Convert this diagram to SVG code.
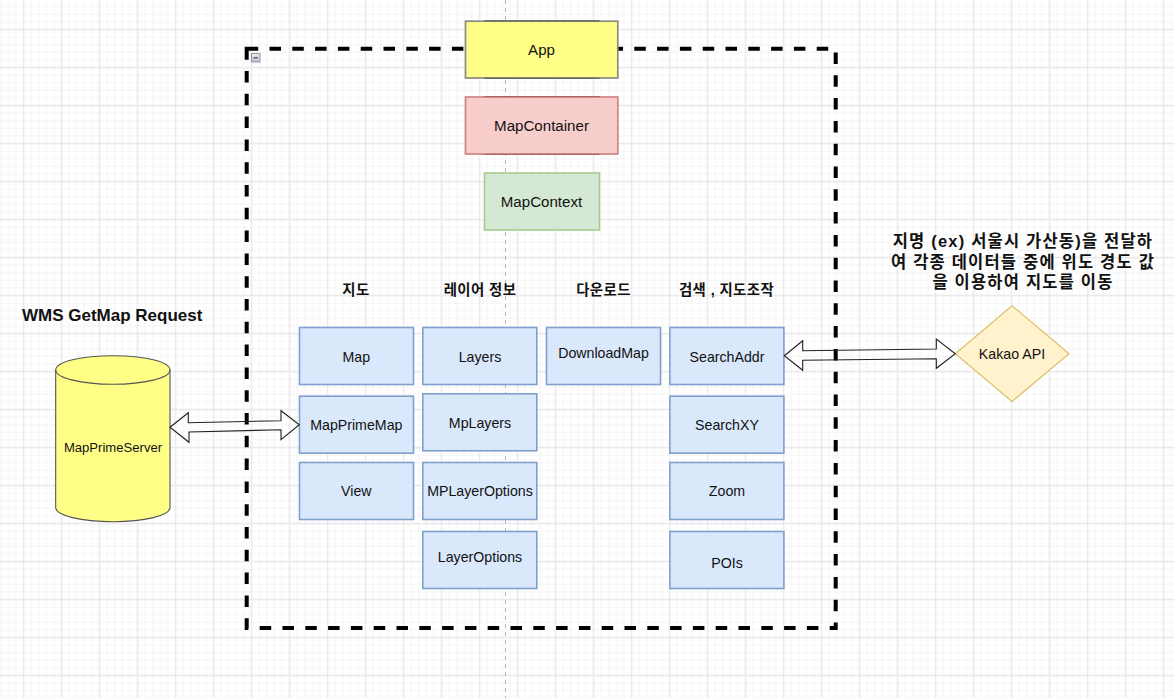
<svg xmlns="http://www.w3.org/2000/svg" width="1174" height="698" viewBox="0 0 1174 698">
<defs>
<pattern id="grid" x="22.75" y="28.75" width="38" height="38" patternUnits="userSpaceOnUse">
<path d="M8.35 0V38M15.95 0V38M23.55 0V38M31.15 0V38M0 8.35H38M0 15.95H38M0 23.55H38M0 31.15H38" fill="none" stroke="#f4f4f4" stroke-width="1"/>
<path d="M.75 0V38M0 .75H38" fill="none" stroke="#e8e8e8" stroke-width="1.3"/>
</pattern>
<linearGradient id="tog" x1="0" y1="0" x2="0" y2="1"><stop offset="0" stop-color="#eef0f4"/><stop offset="1" stop-color="#b8bfcc"/></linearGradient>
</defs>
<style>
text{font-family:"Liberation Sans","Noto Sans CJK KR",Arial,sans-serif;font-size:14.2px;fill:#111;text-anchor:middle}
.top{font-size:15.1px}
.h{font-weight:700;font-size:14.4px;letter-spacing:.4px}
.t{font-size:16.5px;font-weight:700;letter-spacing:1.2px}
.w{font-size:17px;font-weight:700;text-anchor:start}
.s{font-size:13.1px}
.b rect{fill:#dae8fc;stroke:#7f9fcc;stroke-width:1.6}
.a{fill:none;stroke:#222;stroke-width:1.1;stroke-linejoin:miter}
</style>
<rect width="1174" height="698" fill="#fff"/>
<rect width="1174" height="698" fill="url(#grid)"/>
<line x1="505.5" y1="0" x2="505.5" y2="698" stroke="#b5b5b5" stroke-width="1" stroke-dasharray="4 4"/>
<g id="frame">
<rect x="246.7" y="48.7" width="589" height="579.3" fill="none" stroke="#000" stroke-width="4" stroke-dasharray="11.5 11.3"/>
<rect x="251.5" y="53.5" width="8.5" height="8.5" fill="url(#tog)" stroke="#8d95a8" stroke-width="1"/>
<line x1="253.5" y1="57.8" x2="258" y2="57.8" stroke="#333" stroke-width="1"/>
</g>
<g id="app"><rect x="465.5" y="21.2" width="152.3" height="56.8" fill="#ffff88" stroke="#8a8a80" stroke-width="1.7"/><path d="M484.3 20.8H599.5M484.3 78.2H599.5" stroke="#555" stroke-width="1"/><text class="top" x="541.5" y="54.7">App</text></g>
<g id="mapcontainer"><rect x="465.5" y="97" width="152.3" height="57" fill="#f8cecc" stroke="#cc8582" stroke-width="1.7"/><path d="M484.3 96.6H599.5M484.3 154.3H599.5" stroke="#a8605c" stroke-width="1"/><text class="top" x="541.5" y="131">MapContainer</text></g>
<g id="mapcontext"><rect x="484.5" y="173" width="115" height="57" fill="#d5e8d4" stroke="#a6cb90" stroke-width="1.6"/><text class="top" x="541.5" y="207">MapContext</text></g>
<g id="label-map"><text class="h" x="356" y="295">지도</text></g>
<g id="label-layer"><text class="h" x="480" y="295">레이어 정보</text></g>
<g id="label-download"><text class="h" x="603.5" y="295">다운로드</text></g>
<g id="label-search"><text class="h" x="726.5" y="295">검색 , 지도조작</text></g>
<g id="label-wms"><text class="w" x="22" y="321">WMS GetMap Request</text></g>
<g id="label-kakao"><text class="t" x="1023" y="247">지명 (ex) 서울시 가산동)을 전달하</text><text class="t" x="1023" y="268">여 각종 데이터들 중에 위도 경도 값</text><text class="t" x="1023" y="288">을 이용하여 지도를 이동</text></g>
<g id="map" class="b"><rect x="299.5" y="327.5" width="114" height="57"/><text x="356.3" y="362">Map</text></g>
<g id="mapprimemap" class="b"><rect x="299.5" y="396.2" width="114" height="57"/><text x="356.3" y="430">MapPrimeMap</text></g>
<g id="view" class="b"><rect x="299.5" y="462.5" width="114" height="57"/><text x="356.3" y="496">View</text></g>
<g id="layers" class="b"><rect x="422.8" y="327.5" width="114" height="57"/><text x="480" y="362">Layers</text></g>
<g id="mplayers" class="b"><rect x="422.8" y="393.8" width="114" height="57"/><text x="480" y="428">MpLayers</text></g>
<g id="mplayeroptions" class="b"><rect x="422.8" y="462.5" width="114" height="57"/><text x="480" y="496">MPLayerOptions</text></g>
<g id="layeroptions" class="b"><rect x="422.8" y="531.5" width="114" height="57"/><text x="480" y="562">LayerOptions</text></g>
<g id="downloadmap" class="b"><rect x="546.5" y="327.5" width="114" height="57"/><text x="603.5" y="358">DownloadMap</text></g>
<g id="searchaddr" class="b"><rect x="669.9" y="327.5" width="114" height="57"/><text x="727" y="362">SearchAddr</text></g>
<g id="searchxy" class="b"><rect x="669.9" y="396.2" width="114" height="57"/><text x="727" y="430">SearchXY</text></g>
<g id="zoom" class="b"><rect x="669.9" y="462.5" width="114" height="57"/><text x="727" y="496">Zoom</text></g>
<g id="pois" class="b"><rect x="669.9" y="531.5" width="114" height="57"/><text x="727" y="568">POIs</text></g>
<g id="mapprimeserver"><path d="M55.7 370C55.7 361.8 81.5 355.7 113 355.7S170 361.8 170 370V507.5C170 515.5 144.5 521.7 113 521.7S55.7 515.5 55.7 507.5Z" fill="#ffff88" stroke="#555" stroke-width="1.1"/><path d="M55.7 370C55.7 378 81.5 384.3 113 384.3S170 378 170 370" fill="none" stroke="#555" stroke-width="1.1"/><text class="s" x="113" y="451.5">MapPrimeServer</text></g>
<g id="kakaoapi"><polygon points="955.3,353.7 1012,305.7 1069,353.7 1012,401.5" fill="#fff2cc" stroke="#dcc06a" stroke-width="1.2"/><text x="1012" y="358.5">Kakao API</text></g>
<g id="connectors">
<path class="a" d="M170 427.3L188.3 412.7V422.7L281 420.7V410.7L299.3 424.7L281 439.7V429.7L189 432V442.3Z"/>
<path class="a" d="M784.3 355.7L802.7 340.7V350.7L936.3 349V339L955.3 353.7L936.3 368.3V358.7L802.7 360.3V370.3Z"/>
</g>
</svg>
